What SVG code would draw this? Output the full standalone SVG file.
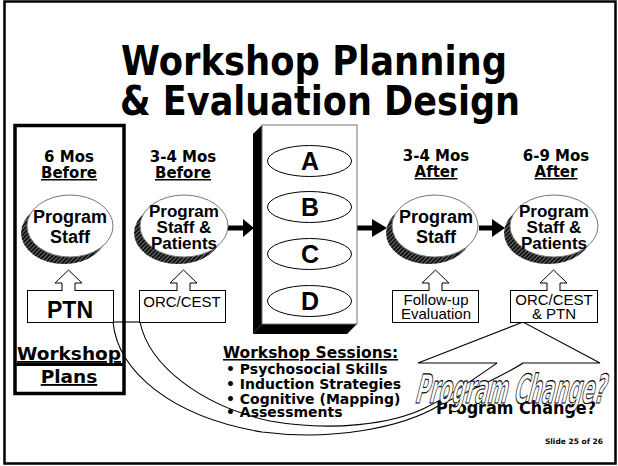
<svg xmlns="http://www.w3.org/2000/svg" width="618" height="466" viewBox="0 0 618 466">
<defs>
<pattern id="hatch" width="3" height="3" patternUnits="userSpaceOnUse" patternTransform="rotate(45)"><rect width="3" height="3" fill="#111"/><line x1="0.5" y1="0" x2="0.5" y2="3" stroke="#888" stroke-width="0.8"/></pattern>
<style>
.hd{font-family:"DejaVu Sans",Verdana,sans-serif;font-weight:bold;font-size:15px;text-anchor:middle;fill:#000}
.ul{text-decoration:underline}
.el{font-family:"Liberation Sans",Arial,sans-serif;font-weight:bold;font-size:18px;text-anchor:middle;fill:#000}
.el3{font-size:17px}
.bx{font-family:"Liberation Sans",Arial,sans-serif;font-size:15px;text-anchor:middle;fill:#000}
.sh{fill:url(#hatch)}
.wel{fill:#fff;stroke:#777;stroke-width:1}
.box{fill:#fff;stroke:#000;stroke-width:1}
.up{fill:#fff;stroke:#000;stroke-width:1}
.let{font-family:"Liberation Sans",Arial,sans-serif;font-weight:bold;font-size:25px;text-anchor:middle}
.ws{font-family:"DejaVu Sans",Verdana,sans-serif;font-weight:bold;font-size:14px;fill:#000}
.thin{fill:none;stroke:#000;stroke-width:1.1}
</style>
</defs>
<rect x="0" y="0" width="618" height="466" fill="#fff"/>
<rect x="4.5" y="1.5" width="611" height="462" fill="none" stroke="#000" stroke-width="2.5"/>

<g id="title">
<text x="121" y="75" font-family="DejaVu Sans,Verdana,sans-serif" font-weight="bold" font-size="40" textLength="386" lengthAdjust="spacingAndGlyphs">Workshop Planning</text>
<text x="120" y="115" font-family="DejaVu Sans,Verdana,sans-serif" font-weight="bold" font-size="40" textLength="400" lengthAdjust="spacingAndGlyphs">&amp; Evaluation Design</text>
</g>

<g id="connectors">
<path class="thin" d="M113,322 C118,372 172,417 262,432 C332,441 402,428 440,405 C475,388 505,375 523,363"/>
<path class="thin" d="M140,322 C149,366 202,406 270,421 C332,432 392,424 425,408 C455,393 480,375 497,363"/>
<line x1="113" y1="322" x2="140" y2="322" stroke="#000" stroke-width="1.1"/>
<path class="thin" d="M497,363 H418 L523,322 L600,363 H523"/>
<line x1="228" y1="228" x2="246" y2="228" stroke="#000" stroke-width="5"/>
<polygon points="243,219 254,228 243,237" fill="#000"/>
<line x1="357" y1="228" x2="375" y2="228" stroke="#000" stroke-width="5"/>
<polygon points="372,219 387,228 372,237" fill="#000"/>
<line x1="479" y1="228" x2="495" y2="228" stroke="#000" stroke-width="5"/>
<polygon points="492,219 505,228 492,237" fill="#000"/>
</g>

<g id="planbox">
<rect x="15" y="125.5" width="109" height="268" fill="none" stroke="#000" stroke-width="3.5"/>
<line x1="15" y1="364.5" x2="124" y2="364.5" stroke="#000" stroke-width="3"/>
<text class="hd ul" x="69" y="360" style="font-size:18.5px">Workshop</text>
<text class="hd ul" x="69" y="383" style="font-size:18.5px">Plans</text>
</g>

<g id="col1">
<text class="hd" x="69" y="162">6 Mos</text>
<text class="hd ul" x="69" y="178">Before</text>
<ellipse class="sh" cx="64" cy="233" rx="43" ry="31"/>
<ellipse class="wel" cx="70" cy="226" rx="43" ry="31"/>
<text class="el" x="70" y="223">Program</text>
<text class="el" x="70" y="243">Staff</text>
</g>

<g id="ptn">
<rect class="box" x="27.5" y="290.5" width="86" height="32"/>
<path class="up" d="M62,291 V283 H55 L68.5,270 L82,283 H75 V291"/>
<text x="70" y="318" font-family="Liberation Sans,Arial,sans-serif" font-weight="bold" font-size="23" text-anchor="middle">PTN</text>
</g>

<g id="col2">
<text class="hd" x="183" y="162">3-4 Mos</text>
<text class="hd ul" x="183" y="178">Before</text>
<ellipse class="sh" cx="178" cy="233" rx="44" ry="31"/>
<ellipse class="wel" cx="184" cy="226" rx="44" ry="31"/>
<text class="el el3" x="184" y="217">Program</text>
<text class="el el3" x="184" y="233">Staff &amp;</text>
<text class="el el3" x="184" y="249">Patients</text>
</g>

<g id="orc1">
<rect class="box" x="139.5" y="290.5" width="86" height="32"/>
<path class="up" d="M177,291 V283 H170 L183.5,270 L197,283 H190 V291"/>
<text class="bx" x="182" y="307">ORC/CEST</text>
</g>

<g id="sessions">
<polygon points="253,134 262,125 262,324 253,334" fill="#000"/>
<polygon points="262,324 357,324 347,334 253,334" fill="#000"/>
<rect x="262" y="125" width="95" height="199" fill="#fff" stroke="#777" stroke-width="1"/>
<ellipse class="box" cx="309.5" cy="161" rx="42" ry="15.5"/>
<ellipse class="box" cx="309.5" cy="207" rx="42" ry="15.5"/>
<ellipse class="box" cx="309.5" cy="254" rx="42" ry="15.5"/>
<ellipse class="box" cx="309.5" cy="301" rx="42" ry="15.5"/>
<text class="let" x="310" y="170">A</text>
<text class="let" x="310" y="216">B</text>
<text class="let" x="310" y="263">C</text>
<text class="let" x="310" y="310">D</text>
</g>

<g id="sessionlist">
<text class="ws ul" x="223" y="358" style="font-size:15.5px">Workshop Sessions:</text>
<text class="ws" x="226" y="374">• Psychosocial Skills</text>
<text class="ws" x="226" y="389">• Induction Strategies</text>
<text class="ws" x="226" y="404">• Cognitive (Mapping)</text>
<text class="ws" x="226" y="417">• Assessments</text>
</g>

<g id="col3">
<text class="hd" x="436" y="161">3-4 Mos</text>
<text class="hd ul" x="436" y="177">After</text>
<ellipse class="sh" cx="429" cy="233" rx="43" ry="31"/>
<ellipse class="wel" cx="435" cy="226" rx="43" ry="31"/>
<text class="el" x="436" y="223">Program</text>
<text class="el" x="436" y="243">Staff</text>
</g>

<g id="followup">
<rect class="box" x="392.5" y="290.5" width="86" height="32"/>
<path class="up" d="M429,291 V283 H422 L435.5,270 L449,283 H442 V291"/>
<text class="bx" x="436" y="305">Follow-up</text>
<text class="bx" x="436" y="319">Evaluation</text>
</g>

<g id="col4">
<text class="hd" x="556" y="161">6-9 Mos</text>
<text class="hd ul" x="556" y="177">After</text>
<ellipse class="sh" cx="548" cy="233" rx="44" ry="31"/>
<ellipse class="wel" cx="554" cy="226" rx="44" ry="31"/>
<text class="el el3" x="554" y="217">Program</text>
<text class="el el3" x="554" y="233">Staff &amp;</text>
<text class="el el3" x="554" y="249">Patients</text>
</g>

<g id="orc2">
<rect class="box" x="510.5" y="290.5" width="87" height="32"/>
<path class="up" d="M547,291 V283 H540 L553.5,270 L567,283 H560 V291"/>
<text class="bx" x="554" y="305">ORC/CEST</text>
<text class="bx" x="554" y="319">&amp; PTN</text>
</g>

<g id="change">
<text transform="translate(436,414) scale(1,0.5)" font-family="DejaVu Sans Condensed,DejaVu Sans,sans-serif" font-weight="bold" font-size="34" textLength="160" lengthAdjust="spacingAndGlyphs" fill="#000">Program Change?</text>
<text transform="translate(414,403) skewX(-14)" font-family="DejaVu Sans Condensed,DejaVu Sans,sans-serif" font-weight="bold" font-size="40" textLength="190" lengthAdjust="spacingAndGlyphs" fill="#fff" stroke="#000" stroke-width="1.1">Program Change?</text>
</g>

<text x="603" y="444" font-family="DejaVu Sans,Verdana,sans-serif" font-weight="bold" font-size="7.5" text-anchor="end">Slide 25 of 26</text>
</svg>
